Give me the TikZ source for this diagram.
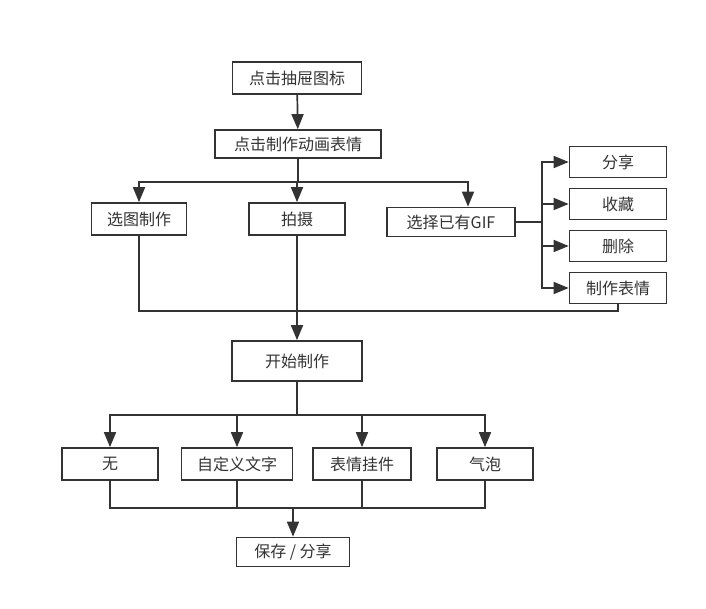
\documentclass[tikz,border=0pt]{standalone}
\usepackage{fontspec}
\setmainfont{Noto Sans CJK SC}
\usetikzlibrary{arrows.meta}
\definecolor{ink}{HTML}{333333}

\begin{document}
\begin{tikzpicture}[x=1pt,y=-1pt,line width=1.7pt,draw=ink,
every node/.style={draw=ink,fill=white,text=ink,inner sep=0pt,font=\fontsize{16}{18}\selectfont},
box/.style={minimum height=32pt},
arr/.style={-{Triangle[width=12pt,length=15pt]}},
]
\useasboundingbox (0,0) rectangle (706,608);
\node [box,minimum width=129pt] (nIcon) at (297,78) {点击抽屉图标};
\node [box,minimum width=166pt,minimum height=28pt] (nGif) at (298,144) {点击制作动画表情};
\node [box,minimum width=95pt] (nPick) at (139,219) {选图制作};
\node [box,minimum width=96pt] (nShoot) at (297,219) {拍摄};
\node [box,minimum width=128pt,minimum height=29pt] (nOld) at (451,222) {选择已有GIF};
\node [box,minimum width=97pt,minimum height=31pt] (nShare) at (618,162) {分享};
\node [box,minimum width=97pt,minimum height=31pt] (nKeep) at (618,204) {收藏};
\node [box,minimum width=97pt,minimum height=31pt] (nDel) at (618,246) {删除};
\node [box,minimum width=97pt,minimum height=31pt] (nMake) at (618,288) {制作表情};
\node [box,minimum width=130pt,minimum height=40pt] (nStart) at (297,361) {开始制作};
\node [box,minimum width=96pt] (nNone) at (110,464) {无};
\node [box,minimum width=111pt] (nText) at (237,464) {自定义文字};
\node [box,minimum width=98pt] (nSticker) at (362,464) {表情挂件};
\node [box,minimum width=96pt] (nBubble) at (485,464) {气泡};
\node [box,minimum width=113pt,minimum height=29pt] (nSave) at (293,552) {保存 / 分享};

\coordinate (j1) at (298,182);
\coordinate (j2) at (542,222);
\coordinate (j3) at (297,311);
\coordinate (j4) at (297,415);
\coordinate (j5) at (293,508);

\draw [arr] (nIcon) -- (nGif);
\draw (nGif) -- (j1);
\draw [arr] (j1) -| (nPick);
\draw [arr] (j1) -| (nShoot);
\draw [arr] (j1) -| ([xshift=17pt]nOld.north);
%right branch
\draw (nOld) -- (j2);
\draw [arr] (j2) |- (nShare);
\draw [arr] (j2) |- (nKeep);
\draw [arr] (j2) |- (nDel);
\draw [arr] (j2) |- (nMake);
%back to start
\draw (nPick) |- (j3);
\draw (nMake) |- (j3);
\draw [arr] (nShoot) -- (nStart);
\draw (nStart) -- (j4);
\draw [arr] (j4) -| (nNone);
\draw [arr] (j4) -| (nText);
\draw [arr] (j4) -| (nSticker);
\draw [arr] (j4) -| (nBubble);
\draw (nNone) |- (j5);
\draw (nText) |- (j5);
\draw (nSticker) |- (j5);
\draw (nBubble) |- (j5);
\draw [arr] (j5) -- (nSave);
\end{tikzpicture}
\end{document}
